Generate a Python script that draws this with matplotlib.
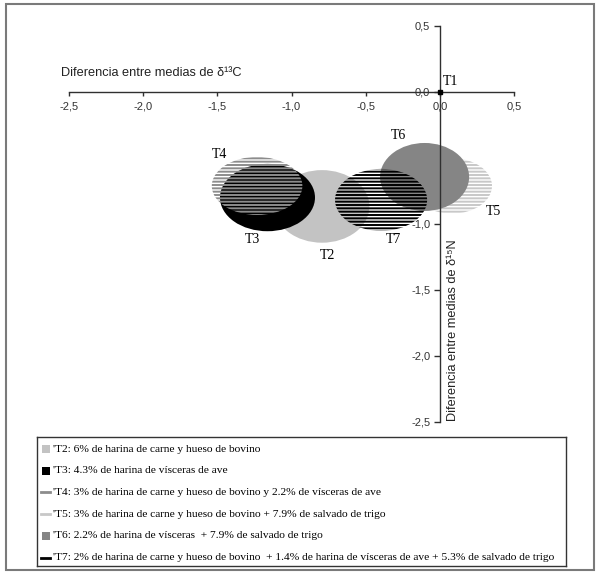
import numpy as np
import matplotlib.pyplot as plt
from matplotlib.patches import Ellipse, Rectangle

#### Data ####

trat = ['T2', 'T3', 'T4', 'T5', 'T6', 'T7']
cx = [-0.795, -1.162, -1.232, 0.08, -0.104, -0.397]     # media d13C
cy = [-0.867, -0.800, -0.712, -0.712, -0.644, -0.818]   # media d15N
ancho = [0.64, 0.64, 0.61, 0.54, 0.60, 0.62]
alto = [0.55, 0.51, 0.44, 0.42, 0.515, 0.47]
relleno = ['#c3c3c3', '#000000', '#8c8c8c', '#c8c8c8', '#858585', '#000000']
rayado = [False, False, True, True, False, True]
orden = [2, 3, 4, 0, 1, 5]   # T5 y T6 abajo, T7 arriba

etq_x = [-0.761, -1.266, -1.488, 0.357, -0.283, -0.316]
etq_y = [-1.242, -1.121, -0.477, -0.909, -0.333, -1.121]

ticks_x = [-2.5, -2.0, -1.5, -1.0, -0.5, 0.0, 0.5]
ticks_y = [0.5, 0.0, -0.5, -1.0, -1.5, -2.0, -2.5]

leyenda = [
    "'T2: 6% de harina de carne y hueso de bovino",
    "'T3: 4.3% de harina de vísceras de ave",
    "'T4: 3% de harina de carne y hueso de bovino y 2.2% de vísceras de ave",
    "'T5: 3% de harina de carne y hueso de bovino + 7.9% de salvado de trigo",
    "'T6: 2.2% de harina de vísceras  + 7.9% de salvado de trigo",
    "'T7: 2% de harina de carne y hueso de bovino  + 1.4% de harina de vísceras de ave + 5.3% de salvado de trigo",
]

####################

plt.rcParams['hatch.linewidth'] = 1.4
W, H = 600, 574
fig = plt.figure(figsize=(W / 100, H / 100), dpi=100)

# marco exterior
fig.patches.append(Rectangle((6 / W, 1 - 570 / H), 588 / W, 566 / H, transform=fig.transFigure,
                             fill=False, edgecolor='#7a7a7a', linewidth=1.5))

#### Grafico principal ####

ax = fig.add_axes([40 / W, 1 - 430 / H, 520 / W, 420 / H])
ax.set_xlim(-2.694, 0.808)
ax.set_ylim(-2.561, 0.621)
ax.patch.set_alpha(0)

for s in ['top', 'right']:
    ax.spines[s].set_visible(False)
ax.spines['left'].set_position(('data', 0))
ax.spines['bottom'].set_position(('data', 0))
ax.spines['bottom'].set_bounds(-2.5, 0.5)
ax.spines['left'].set_bounds(-2.5, 0.5)
for s in ['left', 'bottom']:
    ax.spines[s].set_color('#303030')
    ax.spines[s].set_linewidth(1.0)
    ax.spines[s].set_zorder(10)

ax.set_xticks(ticks_x)
ax.set_xticklabels([('%.1f' % v).replace('.', ',') for v in ticks_x],
                   fontsize=8, family='Liberation Sans', color='#333333')
ax.set_yticks(ticks_y)
ax.set_yticklabels([('%.1f' % v).replace('.', ',') for v in ticks_y],
                   fontsize=8, family='Liberation Sans', color='#333333')
ax.tick_params(axis='x', direction='out', length=3, width=1, color='#303030', pad=4)
ax.tick_params(axis='y', direction='out', length=4, width=1, color='#303030', pad=3)

for i in orden:
    if rayado[i]:
        e = Ellipse((cx[i], cy[i]), ancho[i], alto[i], facecolor='none',
                    edgecolor=relleno[i], linewidth=0, hatch='-----', zorder=2 + i)
    else:
        e = Ellipse((cx[i], cy[i]), ancho[i], alto[i], facecolor=relleno[i],
                    edgecolor='none', linewidth=0, zorder=2 + i)
    ax.add_patch(e)
    ax.text(etq_x[i], etq_y[i], trat[i], fontsize=10, family='Liberation Serif',
            ha='center', va='center', zorder=20)

# T1 en el origen
ax.plot([0], [0], marker='s', markersize=3.5, color='black', zorder=15)
ax.text(0.02, 0.03, 'T1', fontsize=10, family='Liberation Serif', ha='left', va='bottom', zorder=20)

ax.text(-2.555, 0.14, 'Diferencia entre medias de δ¹³C', fontsize=9.2,
        family=['Liberation Sans', 'DejaVu Sans'], ha='left', va='center', color='#222222')
ax.text(0.085, -2.49, 'Diferencia entre medias de δ¹⁵N', fontsize=9.2,
        family=['Liberation Sans', 'DejaVu Sans'], ha='left', va='center', rotation=90,
        rotation_mode='anchor', color='#222222')

#### Leyenda ####

lx0, ly0, lw, lh = 37, 437, 529, 129
lg = fig.add_axes([lx0 / W, 1 - (ly0 + lh) / H, lw / W, lh / H])
lg.set_xlim(0, lw)
lg.set_ylim(lh, 0)
lg.set_xticks([])
lg.set_yticks([])
for s in lg.spines.values():
    s.set_color('#333333')
    s.set_linewidth(1.0)

for k in range(len(trat)):
    yk = 12 + k * 21.7
    if rayado[k]:
        lg.plot([4, 13], [yk, yk], color=relleno[k], linewidth=2)
    else:
        lg.add_patch(Rectangle((5, yk - 4), 8, 8, facecolor=relleno[k], edgecolor='none'))
    lg.text(16, yk, leyenda[k], fontsize=8.2, family='Liberation Serif', ha='left', va='center')

fig.savefig('out.png', dpi=100)
